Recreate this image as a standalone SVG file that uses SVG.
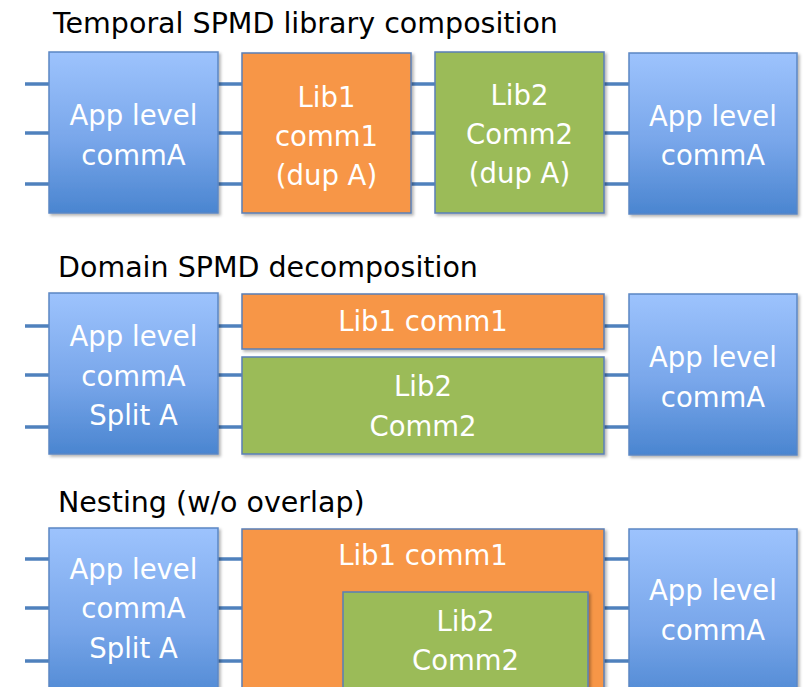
<svg xmlns="http://www.w3.org/2000/svg" width="803" height="687" viewBox="0 0 803 687">
<defs>
<linearGradient id="blueGrad" x1="0" y1="0" x2="0" y2="1">
<stop offset="0" stop-color="#9dc3fd"/>
<stop offset="0.55" stop-color="#78a6ea"/>
<stop offset="1" stop-color="#4a85d0"/>
</linearGradient>
<filter id="shadow" x="-10%" y="-10%" width="130%" height="130%">
<feDropShadow dx="2" dy="2" stdDeviation="1.5" flood-color="#000" flood-opacity="0.3"/>
</filter>
</defs>
<style>
.title{font-family:"DejaVu Sans",sans-serif;font-size:28.5px;fill:#000}
.lbl{font-family:"DejaVu Sans",sans-serif;font-size:27.5px;fill:#fff;text-anchor:middle}
.blue{fill:url(#blueGrad);stroke:#5b87c4;stroke-width:1.5;filter:url(#shadow)}
.orange{fill:#f79646;stroke:#5a7fb6;stroke-width:1.5;filter:url(#shadow)}
.green{fill:#9bbb59;stroke:#5a7fb6;stroke-width:1.5;filter:url(#shadow)}
.conn line{stroke:#4f81bd;stroke-width:3.5}
</style>
<rect width="803" height="687" fill="#fff"/>

<text class="title" x="53" y="33">Temporal SPMD library composition</text>
<text class="title" x="58" y="277">Domain SPMD decomposition</text>
<text class="title" x="58" y="512">Nesting (w/o overlap)</text>

<g id="connectors" class="conn">
<line x1="25" y1="84" x2="50" y2="84"/><line x1="25" y1="133" x2="50" y2="133"/><line x1="25" y1="184" x2="50" y2="184"/>
<line x1="217" y1="84" x2="243" y2="84"/><line x1="217" y1="133" x2="243" y2="133"/><line x1="217" y1="184" x2="243" y2="184"/>
<line x1="410" y1="84" x2="436" y2="84"/><line x1="410" y1="133" x2="436" y2="133"/><line x1="410" y1="184" x2="436" y2="184"/>
<line x1="603" y1="84" x2="630" y2="84"/><line x1="603" y1="133" x2="630" y2="133"/><line x1="603" y1="184" x2="630" y2="184"/>

<line x1="25" y1="326" x2="50" y2="326"/><line x1="25" y1="375" x2="50" y2="375"/><line x1="25" y1="427" x2="50" y2="427"/>
<line x1="217" y1="326" x2="243" y2="326"/><line x1="217" y1="375" x2="243" y2="375"/><line x1="217" y1="427" x2="243" y2="427"/>
<line x1="603" y1="326" x2="630" y2="326"/><line x1="603" y1="375" x2="630" y2="375"/><line x1="603" y1="427" x2="630" y2="427"/>

<line x1="25" y1="559" x2="50" y2="559"/><line x1="25" y1="608" x2="50" y2="608"/><line x1="25" y1="661" x2="50" y2="661"/>
<line x1="217" y1="559" x2="243" y2="559"/><line x1="217" y1="608" x2="243" y2="608"/><line x1="217" y1="661" x2="243" y2="661"/>
<line x1="603" y1="559" x2="630" y2="559"/><line x1="603" y1="608" x2="630" y2="608"/><line x1="603" y1="661" x2="630" y2="661"/>
</g>

<g id="t-app-left">
<rect class="blue" x="49" y="52" width="169" height="161"/>
<text class="lbl" x="133.5" y="125">App level</text>
<text class="lbl" x="133.5" y="165">commA</text>
</g>
<g id="t-lib1">
<rect class="orange" x="242" y="53" width="169" height="160"/>
<text class="lbl" x="326.5" y="107">Lib1</text>
<text class="lbl" x="326.5" y="146">comm1</text>
<text class="lbl" x="326.5" y="185">(dup A)</text>
</g>
<g id="t-lib2">
<rect class="green" x="435" y="52" width="169" height="161"/>
<text class="lbl" x="519.5" y="105">Lib2</text>
<text class="lbl" x="519.5" y="144">Comm2</text>
<text class="lbl" x="519.5" y="183">(dup A)</text>
</g>
<g id="t-app-right">
<rect class="blue" x="629" y="53" width="168" height="161"/>
<text class="lbl" x="713" y="126">App level</text>
<text class="lbl" x="713" y="165">commA</text>
</g>

<g id="d-app-left">
<rect class="blue" x="49" y="293" width="169" height="161"/>
<text class="lbl" x="133.5" y="346">App level</text>
<text class="lbl" x="133.5" y="386">commA</text>
<text class="lbl" x="133.5" y="425">Split A</text>
</g>
<g id="d-lib1">
<rect class="orange" x="242" y="294" width="362" height="55"/>
<text class="lbl" x="423" y="331">Lib1 comm1</text>
</g>
<g id="d-lib2">
<rect class="green" x="242" y="357" width="362" height="97"/>
<text class="lbl" x="423" y="396">Lib2</text>
<text class="lbl" x="423" y="436">Comm2</text>
</g>
<g id="d-app-right">
<rect class="blue" x="629" y="294" width="168" height="161"/>
<text class="lbl" x="713" y="367">App level</text>
<text class="lbl" x="713" y="407">commA</text>
</g>

<g id="n-app-left">
<rect class="blue" x="49" y="528" width="169" height="180"/>
<text class="lbl" x="133.5" y="579">App level</text>
<text class="lbl" x="133.5" y="618">commA</text>
<text class="lbl" x="133.5" y="658">Split A</text>
</g>
<g id="n-lib1">
<rect class="orange" x="242" y="529" width="362" height="180"/>
<text class="lbl" x="423" y="565">Lib1 comm1</text>
</g>
<g id="n-lib2">
<rect class="green" x="343" y="592" width="245" height="120"/>
<text class="lbl" x="465.5" y="631">Lib2</text>
<text class="lbl" x="465.5" y="670">Comm2</text>
</g>
<g id="n-app-right">
<rect class="blue" x="629" y="529" width="168" height="180"/>
<text class="lbl" x="713" y="600">App level</text>
<text class="lbl" x="713" y="640">commA</text>
</g>
</svg>
